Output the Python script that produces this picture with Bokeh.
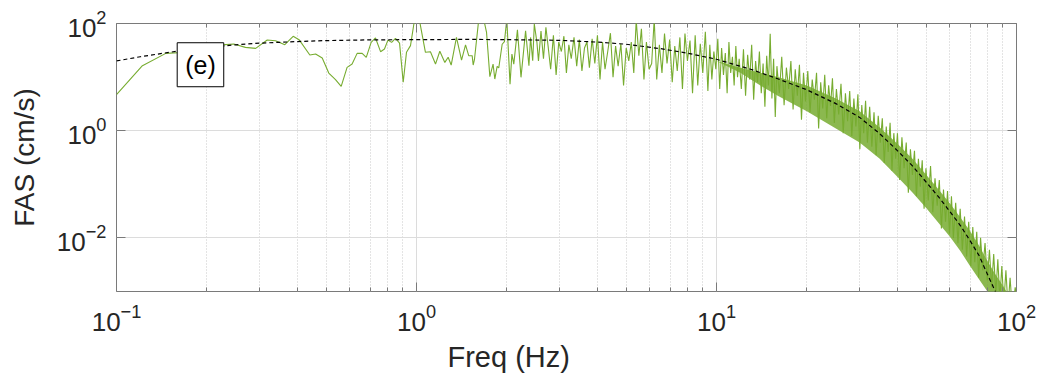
import numpy as np
from bokeh.plotting import figure
from bokeh.models import LogAxis, FixedTicker, Label, Range1d, CustomJSTickFormatter, Title
from bokeh.embed import file_html
from bokeh.resources import INLINE

# ---- data ----
fas_freq_low = [0.100, 0.122, 0.146, 0.171, 0.195, 0.225, 0.246, 0.269, 0.291, 0.318,
                0.339, 0.364, 0.388, 0.406, 0.441, 0.461, 0.485, 0.510, 0.537, 0.561,
                0.587, 0.610, 0.634, 0.659, 0.680, 0.706, 0.730, 0.759, 0.782, 0.803,
                0.826, 0.851, 0.878, 0.903, 0.926, 0.955, 0.980, 1.000, 1.026, 1.071,
                1.113, 1.157, 1.196, 1.243, 1.275, 1.305, 1.359, 1.413, 1.457, 1.493,
                1.533, 1.545, 1.560, 1.613, 1.670, 1.712, 1.756, 1.800, 1.824, 1.857,
                1.880, 1.930, 1.964, 2.000, 2.050, 2.080, 2.110, 2.170, 2.190, 2.230,
                2.310, 2.370, 2.400, 2.440, 2.470, 2.520]
fas_amp_low = [4.7, 16.3, 27.7, 29, 33, 40, 41.4, 35.9, 34.4, 49.2,
               47.7, 40.2, 57.6, 49.9, 25.9, 26.9, 22.7, 11.9, 9.0, 6.7,
               15.2, 17.5, 27.7, 27.7, 23.4, 44.5, 53.7, 29.8, 33.4, 49,
               44.5, 52.8, 43, 8.0, 29, 38.6, 98, 125, 105, 29,
               29.8, 17.5, 30.3, 18.8, 23.4, 16.8, 55, 20.8, 40, 25.1,
               25.1, 16.8, 21.1, 121, 130, 68, 10.2, 17.5, 9.2, 15.8,
               14.8, 41, 45.8, 121, 7.4, 27, 17.5, 76, 38.6, 9.9,
               73, 16.3, 55, 20.2, 98, 44.5]

fas_freq_mid = [2.55, 2.60, 2.65, 2.70, 2.75, 2.80, 2.86, 2.92, 2.98, 3.04,
                3.10, 3.16, 3.22, 3.28, 3.35, 3.42, 3.49, 3.56, 3.63, 3.70,
                3.77, 3.85, 3.93, 4.01, 4.09, 4.17, 4.25, 4.34, 4.43, 4.52,
                4.61, 4.70, 4.80, 4.90, 5.00, 5.10, 5.20, 5.30, 5.40, 5.51,
                5.62, 5.73, 5.84, 5.96, 6.08, 6.20, 6.32, 6.45, 6.58, 6.71,
                6.84, 6.98, 7.12, 7.26, 7.40, 7.55, 7.70, 7.85, 8.00, 8.16,
                8.32, 8.49, 8.66, 8.83, 9.00, 9.18, 9.36]
fas_amp_mid = [20, 72, 22, 85, 35, 14, 60, 11, 45, 30,
               58, 12, 40, 22, 55, 16, 50, 13, 35, 45,
               15, 52, 18, 60, 9, 45, 14, 30, 66, 10,
               38, 16, 42, 7, 35, 20, 45, 12, 115, 25,
               80, 9, 45, 14, 18, 120, 9, 40, 12, 65,
               18, 50, 8, 38, 13, 55, 6, 65, 20, 48,
               5, 60, 7, 42, 12, 70, 5.5]

fas_freq_high = [9.5, 9.65, 9.8, 9.95, 10.1, 10.25, 10.4, 10.55, 10.7, 10.85, 11.0, 11.15, 11.3, 11.45, 11.6, 11.75, 11.9,
                 12.1, 12.3, 12.5, 12.7, 12.9, 13.1, 13.3, 13.5, 13.7, 13.9, 14.1, 14.3, 14.5, 14.7, 14.9, 15.1, 15.3, 15.5, 15.7, 15.9,
                 16.2, 16.5, 16.8, 17.1, 17.4, 17.7, 18.0, 18.3, 18.6, 18.9, 19.2, 19.5, 19.8,
                 20.15, 20.5, 20.85, 21.2, 21.55, 21.9, 22.25, 22.6, 22.95, 23.3, 23.65, 24.0, 24.35, 24.7,
                 25.1, 25.55, 26.0, 26.45, 26.9, 27.35, 27.8, 28.25, 28.7, 29.15, 29.6, 30.05, 30.5, 30.95, 31.4, 31.85,
                 32.4, 32.95, 33.5, 34.05, 34.6, 35.15, 35.7, 36.25, 36.8, 37.35, 37.9, 38.45, 39.0, 39.55,
                 40.1, 40.8, 41.5, 42.2, 42.9, 43.6, 44.3, 45.0, 45.7, 46.4, 47.1, 47.8, 48.5, 49.2, 49.9,
                 50.8, 51.7, 52.6, 53.5, 54.4, 55.3, 56.2, 57.1, 58.0, 58.9, 59.8, 60.7, 61.6,
                 62.7, 63.8, 64.9, 66.0, 67.1, 68.2, 69.3, 70.4, 71.5, 72.6, 73.7, 74.8, 75.9,
                 77.2, 78.55, 79.9, 81.25, 82.6, 83.95, 85.3, 86.65, 88.0, 89.35, 90.7, 92.2, 93.7, 95.2, 97.0, 99.0, 100.0]
fas_amp_high = [40, 9, 30, 14, 52, 6, 35, 11, 28, 5, 45, 12, 24, 7, 38, 10, 22,
                6, 33, 4.5, 26, 9, 40, 3.8, 20, 8, 30, 5, 18, 2.8, 25, 7, 64, 4, 22, 1.8, 16,
                5, 24, 3, 15, 6, 20, 2.5, 14, 4.5, 17, 1.6, 12, 3.5,
                13, 2.2, 9, 3.8, 12, 1.1, 8, 2.6, 11, 1.7, 7, 2.9, 9.5, 1.4,
                6, 2, 7.5, 0.9, 5, 1.5, 5.5, 0.8, 4, 1.2, 4.8, 0.45, 3, 0.9, 3.6, 0.6,
                2.8, 0.5, 2.2, 0.35, 1.9, 0.6, 1.7, 0.25, 1.2, 0.4, 1.4, 0.18, 0.9, 0.3,
                0.9, 0.12, 0.75, 0.2, 0.6, 0.07, 0.45, 0.15, 0.42, 0.06, 0.3, 0.09, 0.28, 0.035, 0.2,
                0.05, 0.22, 0.03, 0.13, 0.04, 0.12, 0.015, 0.08, 0.02, 0.075, 0.012, 0.06, 0.01,
                0.045, 0.008, 0.035, 0.006, 0.025, 0.0045, 0.02, 0.003, 0.016, 0.0035, 0.013, 0.0018, 0.01,
                0.0025, 0.008, 0.0016, 0.006, 0.0012, 0.005, 0.0009, 0.004, 0.0007, 0.003, 0.0006, 0.0025, 0.0005, 0.0018, 0.0004, 0.0012, 0.0008]

# dense core of the high-frequency trace (where the line fills a solid band)
band_freq = [10, 12, 14, 16, 20, 25, 30, 35, 40, 45, 50, 55, 60, 65, 70, 75, 80, 85, 90, 95]
band_hi = [20, 15, 12, 10, 7, 4, 2.3, 1.15, 0.58, 0.3, 0.15, 0.08, 0.044, 0.024, 0.0135, 0.0072, 0.0037, 0.0021, 0.0013, 0.0008]
band_lo = [20, 12, 7, 4.5, 2.3, 1.1, 0.6, 0.3, 0.14, 0.07, 0.036, 0.019, 0.0105, 0.0057, 0.003, 0.0017, 0.001, 0.0006, 0.00035, 0.0002]

model_freq = [0.1, 0.12, 0.15, 0.2, 0.25, 0.3, 0.4, 0.5, 0.7, 1, 1.5, 2, 3, 4, 5, 6.5, 8, 10, 13, 16,
              20, 25, 30, 35, 40, 45, 50, 55, 60, 65, 70, 75, 80, 85, 90]
model_amp = [20, 24, 29, 36, 40, 43, 46, 48, 49.5, 50, 50.5, 50, 48.5, 45, 41, 34, 28, 21.5, 14, 9.3,
             5.8, 3.2, 1.77, 0.88, 0.43, 0.22, 0.11, 0.058, 0.031, 0.017, 0.0089, 0.0047, 0.0021, 0.001, 0.0005]

x_major = [0.1, 1, 10, 100]
y_major = [1e-2, 1, 1e2]
panel_label = "(e)"
x_label = "Freq (Hz)"
y_label = "FAS (cm/s)"

fas_freq = np.array(fas_freq_low + fas_freq_mid + fas_freq_high)
fas_amp = np.array(fas_amp_low + fas_amp_mid + fas_amp_high)

x_minor = [k * d for d in (0.1, 1, 10) for k in range(2, 10)]

FONT = "Liberation Sans"
TXT = "#262626"
AX = "#7a7a7a"
GREEN = "#77AC30"

p = figure(x_axis_type="log", y_axis_type="log",
           x_range=Range1d(0.1, 100), y_range=Range1d(1e-3, 1e2),
           frame_width=900, frame_height=268,
           min_border_left=116, min_border_right=27, min_border_top=23, min_border_bottom=88,
           output_backend="svg", toolbar_location=None)
p.background_fill_color = "white"
p.outline_line_color = AX
p.outline_line_width = 1

p.varea(x=band_freq, y1=band_lo, y2=band_hi, fill_color=GREEN, fill_alpha=0.85)
p.line(fas_freq, fas_amp, line_color=GREEN, line_width=1.1)
p.line(model_freq, model_amp, line_color="black", line_width=1.2, line_dash="4 3")

def style_axis(ax, labels=True):
    ax.axis_line_color = None
    ax.major_tick_in = 9
    ax.major_tick_out = 0
    ax.minor_tick_in = 4
    ax.minor_tick_out = 0
    ax.major_tick_line_color = AX
    ax.minor_tick_line_color = AX
    ax.major_label_text_font = FONT
    ax.major_label_text_font_size = "26px"
    ax.major_label_text_color = TXT
    ax.axis_label_text_font = FONT
    ax.axis_label_text_font_size = "28px"
    ax.axis_label_text_font_style = "normal"
    ax.axis_label_text_color = TXT
    if not labels:
        ax.formatter = CustomJSTickFormatter(code="return ''")
        ax.major_label_standoff = 0

p.xaxis.ticker = FixedTicker(ticks=x_major, minor_ticks=x_minor)
p.yaxis.ticker = FixedTicker(ticks=y_major, minor_ticks=[])
for ax in p.xaxis:
    style_axis(ax)
    ax.major_label_standoff = 12
for ax in p.yaxis:
    style_axis(ax)
    ax.axis_label = y_label
    ax.major_label_standoff = 10
    ax.axis_label_standoff = 14

top = LogAxis(ticker=FixedTicker(ticks=x_major, minor_ticks=x_minor))
style_axis(top, labels=False)
p.add_layout(top, "above")
right = LogAxis(ticker=FixedTicker(ticks=y_major, minor_ticks=[]))
style_axis(right, labels=False)
p.add_layout(right, "right")

p.xgrid.grid_line_color = "#dcdcdc"
p.xgrid.minor_grid_line_color = "#c8c8c8"
p.xgrid.minor_grid_line_dash = "1 2"
p.ygrid.grid_line_color = "#dcdcdc"

# x axis title, placed as in the reference (left of the frame centre)
xt = Title(text=x_label, align="left", offset=331, text_font=FONT, text_font_size="29px",
           text_font_style="normal", text_color=TXT)
p.add_layout(xt, "below")

lab = Label(x=0.1905, y=17.0, text=panel_label, text_align="center", text_baseline="middle",
            text_font=FONT, text_font_size="25px", text_color="black",
            border_line_color="black", border_line_width=1,
            background_fill_color="white", padding=8)
p.add_layout(lab)

open("out.html", "w").write(file_html(p, INLINE))
